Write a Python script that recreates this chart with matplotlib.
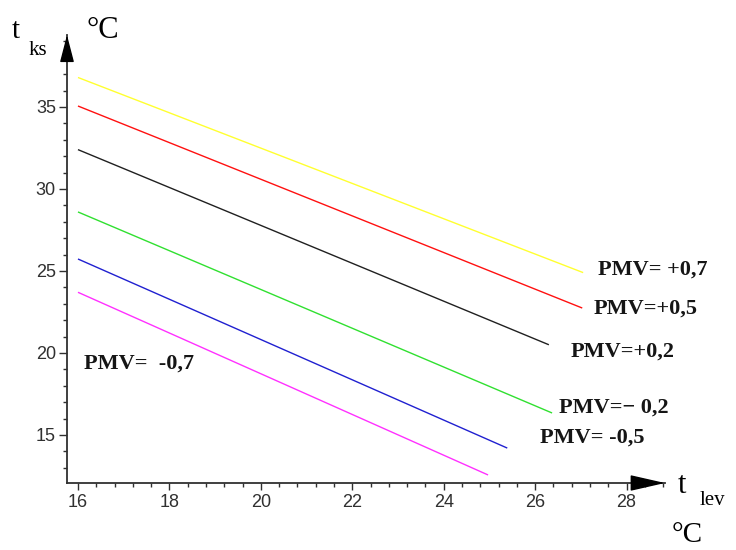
import matplotlib
matplotlib.use("Agg")
import matplotlib.pyplot as plt
from matplotlib.ticker import MultipleLocator

# PMV comfort lines: t_ks vs t_lev, each read as start/end points
pmv_labels = ["PMV= +0,7", "PMV=+0,5", "PMV=+0,2", "PMV=\u2212 0,2", "PMV= -0,5", "PMV=  -0,7"]
x_start = [16.0, 16.0, 16.0, 16.0, 16.0, 16.0]
x_end = [27.05, 27.03, 26.3, 26.37, 25.39, 24.97]
y_start = [36.8, 35.06, 32.4, 28.6, 25.73, 23.7]
y_end = [24.9, 22.74, 20.5, 16.34, 14.2, 12.56]
line_colors = ["#ffff30", "#ff1010", "#202020", "#30e030", "#2020d0", "#ff30ff"]

x_ticks = [16, 18, 20, 22, 24, 26, 28]
y_ticks = [15, 20, 25, 30, 35]

W, H = 736, 550
plt.rcParams.update({"font.family": "Liberation Sans", "font.size": 13})
fig = plt.figure(figsize=(W / 100, H / 100), dpi=100)
fig.patch.set_facecolor("white")


def fx(px):
    return px / W


def fy(py):
    return 1 - py / H


# axes box in pixels: left 67, right 665, top 35, bottom 483
ax = fig.add_axes([fx(67), fy(483), fx(665 - 67), (483 - 35) / H])
ax.set_xlim(15.76, 28.84)
ax.set_ylim(12.07, 39.39)

for xs, xe, ys, ye, c in zip(x_start, x_end, y_start, y_end, line_colors):
    ax.plot([xs, xe], [ys, ye], color=c, linewidth=1.0, solid_capstyle="butt")

ax.spines["top"].set_visible(False)
ax.spines["right"].set_visible(False)
for side in ("left", "bottom"):
    ax.spines[side].set_linewidth(1.3)
    ax.spines[side].set_color("#303030")

ax.set_xticks(x_ticks)
ax.set_yticks(y_ticks)
ax.xaxis.set_minor_locator(MultipleLocator(0.4))
ax.yaxis.set_minor_locator(MultipleLocator(1))
ax.tick_params(axis="x", which="major", length=5, width=1, pad=3, labelsize=13, colors="#303030")
ax.tick_params(axis="x", which="minor", length=3, width=1, colors="#303030")
ax.tick_params(axis="y", which="major", length=6, width=1, pad=2, labelsize=13, colors="#303030")
ax.tick_params(axis="y", which="minor", length=3, width=1, colors="#303030")

# arrow heads on the axes
ax.annotate("", xy=(1.0, 0), xycoords="axes fraction", xytext=(1 - 30 / 598, 0),
            arrowprops=dict(arrowstyle="-|>,head_length=1.1,head_width=0.25",
                            color="black", mutation_scale=20, shrinkA=0, shrinkB=0))
ax.annotate("", xy=(0, 1.0), xycoords="axes fraction", xytext=(0, 1 - 24 / 448),
            arrowprops=dict(arrowstyle="-|>,head_length=0.85,head_width=0.22",
                            color="black", mutation_scale=20, shrinkA=0, shrinkB=0))

# axis titles
serif = "Liberation Serif"
fig.text(fx(12), fy(38), "t", family=serif, fontsize=21, va="baseline")
fig.text(fx(29), fy(55), "ks", family=serif, fontsize=15, va="baseline")
fig.text(fx(86), fy(38), "\u00b0C", family=serif, fontsize=22, va="baseline")
fig.text(fx(678), fy(493), "t", family=serif, fontsize=22, va="baseline")
fig.text(fx(700), fy(505), "lev", family=serif, fontsize=15, va="baseline")
fig.text(fx(672), fy(542), "\u00b0C", family=serif, fontsize=21, va="baseline")

# PMV labels (left x, vertical centre in pixels)
label_pos = [(598, 270), (594, 309), (571, 352), (559, 408), (540, 438), (84, 364)]
for txt, (px, py) in zip(pmv_labels, label_pos):
    fig.text(fx(px), fy(py), txt, family=serif, fontweight="bold", fontsize=16,
             va="center", ha="left", color="#151515")

fig.savefig("out.png", dpi=100, facecolor="white")
